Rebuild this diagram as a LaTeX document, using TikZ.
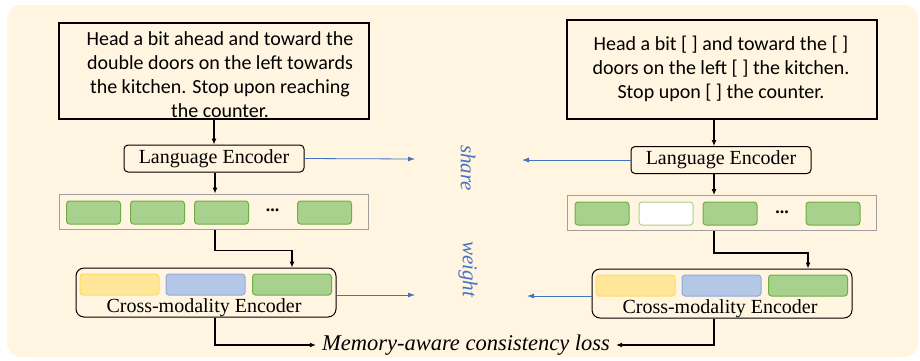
\documentclass[tikz,border=0pt]{standalone}
\usepackage{fontspec}
\setmainfont{Liberation Serif}
\newfontfamily\calfont{Carlito}
\usetikzlibrary{arrows.meta,positioning,calc}
\definecolor{bgcream}{HTML}{FFF5E0}
\definecolor{tokgreen}{HTML}{A9D18E}
\definecolor{tokgreenline}{HTML}{70AD47}
\definecolor{tokyellow}{HTML}{FFE699}
\definecolor{tokyellowline}{HTML}{FFD966}
\definecolor{tokblue}{HTML}{B4C7E7}
\definecolor{tokblueline}{HTML}{8FAADC}
\definecolor{sharecol}{HTML}{4472C4}
\tikzset{
	instrbox/.style={draw,line width=1.2pt,minimum width=310pt,minimum height=96pt,inner sep=0pt},
	instrtext/.style={font=\calfont\fontsize{20}{24}\selectfont,align=center,inner sep=0pt},
	encbox/.style={draw,rounded corners=4pt,line width=1pt,minimum width=180pt,minimum height=27pt,inner sep=0pt,font=\fontsize{20}{22}\selectfont},
	rowbox/.style={draw=gray!75,line width=1pt,minimum width=309pt,minimum height=35pt,inner sep=0pt},
	tok/.style={draw=tokgreenline,fill=tokgreen,rounded corners=3pt,line width=1pt,minimum width=54pt,minimum height=23pt,inner sep=0pt},
	masktok/.style={tok,draw=tokgreen,fill=white},
	crossbox/.style={draw,rounded corners=8pt,line width=1pt,minimum width=260pt,minimum height=49pt,inner sep=0pt},
	crosstok/.style={rounded corners=3pt,line width=1pt,minimum width=79pt,minimum height=21pt,inner sep=0pt},
	crosstext/.style={font=\fontsize{20}{22}\selectfont,inner sep=0pt},
	arr/.style={-{Latex[length=6pt,width=5pt]},line width=1.1pt},
	shr/.style={-{Latex[length=7pt,width=5pt]},draw=sharecol,line width=0.8pt},
	sharetext/.style={rotate=-90,text=sharecol,font=\itshape\fontsize{21}{24}\selectfont,inner sep=0pt},
}
\begin{document}
\begin{tikzpicture}[x=1pt,y=-1pt]
	\useasboundingbox (0,0) rectangle (920,360);
	\fill[bgcream,rounded corners=14pt] (7,5) rectangle (918,357);

	% left branch
	\node[instrbox] (instrL) at (214,71) {};
	\node[instrtext] (instrLtxt) at (220,75) {Head a bit ahead and toward the\\double doors on the left towards\\the kitchen. Stop upon reaching\\the counter.};
	\node[encbox] (encL) at (214,158.5) {Language Encoder};
	\node[rowbox] (rowL) at (213.5,211.5) {};
	\foreach \i/\dx in {1/35,2/99,3/163,4/266}
		\node[tok] (tokL\i) at ($(rowL.west)+(\dx,1)$) {};
	\node[font=\bfseries\fontsize{18}{20}\selectfont] (dotsL) at ($(rowL.west)+(214,-1)$) {...};
	\node[crossbox] (crossL) at (206,292.5) {};
	\node[crosstok,draw=tokyellowline,fill=tokyellow] (cyL) at ($(crossL.west)+(44,-8)$) {};
	\node[crosstok,draw=tokblueline,fill=tokblue] (cbL) at ($(crossL.west)+(130,-8)$) {};
	\node[crosstok,draw=tokgreenline,fill=tokgreen] (cgL) at ($(crossL.west)+(216.5,-8)$) {};
	\node[crosstext] (crossLtxt) at (204,307.5) {Cross-modality Encoder};
	\coordinate (axL) at (215,0);

	% right branch
	\node[instrbox,minimum height=99pt] (instrR) at (722,69.5) {};
	\node[instrtext] (instrRtxt) at (721,68.5) {Head a bit [ ] and toward the [ ]\\doors on the left [ ] the kitchen.\\Stop upon [ ] the counter.};
	\node[encbox] (encR) at (721,160) {Language Encoder};
	\node[rowbox] (rowR) at (722,213) {};
	\foreach \i/\dx in {1/35,3/163,4/266}
		\node[tok] (tokR\i) at ($(rowR.west)+(\dx,0.5)$) {};
	\node[masktok] (tokR2) at ($(rowR.west)+(99,0.5)$) {};
	\node[font=\bfseries\fontsize{18}{20}\selectfont] (dotsR) at ($(rowR.west)+(215,-1)$) {...};
	\node[crossbox] (crossR) at (722,293.5) {};
	\node[crosstok,draw=tokyellowline,fill=tokyellow] (cyR) at ($(crossR.west)+(44,-8)$) {};
	\node[crosstok,draw=tokblueline,fill=tokblue] (cbR) at ($(crossR.west)+(130,-8)$) {};
	\node[crosstok,draw=tokgreenline,fill=tokgreen] (cgR) at ($(crossR.west)+(216.5,-8)$) {};
	\node[crosstext] (crossRtxt) at (720,308.5) {Cross-modality Encoder};
	\coordinate (axR) at (714,0);

	% middle
	\node[sharetext] (share) at (468,168) {share};
	\node[sharetext] (weight) at (468,269) {weight};
	\node[font=\itshape\fontsize{22.5}{24}\selectfont,inner sep=6pt] (loss) at (466,345) {Memory-aware consistency loss};
	\coordinate (shLtop) at (415,159);
	\coordinate (shRtop) at (522,160);
	\coordinate (shLbot) at (415,295);
	\coordinate (shRbot) at (527,296);

	% connectors
	\draw[arr] (instrL) -- (encL);
	\draw[arr] (axL |- encL.south) -- (axL |- rowL.north);
	\draw[arr] (axL |- rowL.south) -- ++(0,21) -| (cgL.north |- crossL.north);
	\draw[arr] (axL |- crossL.south) |- (loss.west);
	\draw[arr] (axR |- instrR.south) -- (axR |- encR.north);
	\draw[arr] (axR |- encR.south) -- (axR |- rowR.north);
	\draw[arr] (axR |- rowR.south) -- ++(0,22) -| (cgR.north |- crossR.north);
	\draw[arr] (axR |- crossR.south) |- (loss.east);
	\draw[shr] (encL.east) -- (shLtop);
	\draw[shr] (encR.west) -- (shRtop);
	\draw[shr] (crossL.east |- shLbot) -- (shLbot);
	\draw[shr] (crossR.west |- shRbot) -- (shRbot);
\end{tikzpicture}
\end{document}
